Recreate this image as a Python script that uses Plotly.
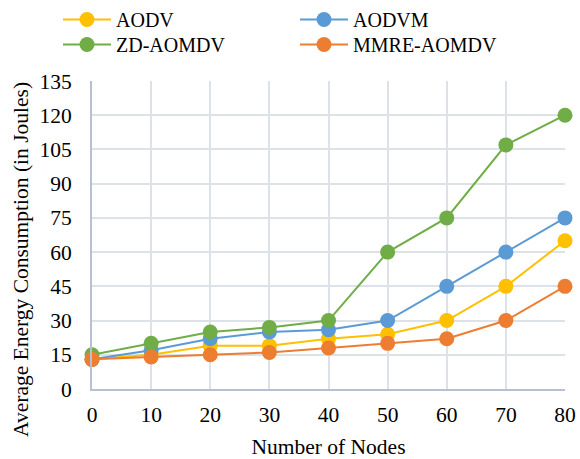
import plotly.graph_objects as go

nodes = [0, 10, 20, 30, 40, 50, 60, 70, 80]
aodv = [13, 15, 19, 19, 22, 24, 30, 45, 65]
aodvm = [13, 17, 22, 25, 26, 30, 45, 60, 75]
zd_aomdv = [15, 20, 25, 27, 30, 60, 75, 107, 120]
mmre_aomdv = [13, 14, 15, 16, 18, 20, 22, 30, 45]

series = [
    ("AODV", aodv, "#FFC000"),
    ("AODVM", aodvm, "#5B9BD5"),
    ("ZD-AOMDV", zd_aomdv, "#70AD47"),
    ("MMRE-AOMDV", mmre_aomdv, "#ED7D31"),
]

font = "'Liberation Serif', 'Times New Roman', serif"
fs = 21.5
W, H = 580, 459

# legend slot positions (container fractions): 2 columns x 2 rows
legend_pos = [(0.1, 1.0), (0.1 + 237 / W, 1.0),
              (0.1, 1.0 - 25 / H), (0.1 + 237 / W, 1.0 - 25 / H)]
legend_ids = ["legend", "legend2", "legend3", "legend4"]

fig = go.Figure()
for (name, vals, color), lid in zip(series, legend_ids):
    fig.add_trace(go.Scatter(
        x=nodes, y=vals, name=name, mode="lines+markers",
        line=dict(color=color, width=2),
        marker=dict(color=color, size=15),
        cliponaxis=False, legend=lid, showlegend=True,
    ))

legend_layout = {}
for lid, (lx, ly) in zip(legend_ids, legend_pos):
    legend_layout[lid] = dict(
        orientation="h", x=lx, xanchor="left", y=ly, yanchor="top",
        yref="container", xref="container", itemwidth=48,
        font=dict(family=font, size=20, color="black"),
        bgcolor="rgba(0,0,0,0)", visible=True,
    )

fig.update_layout(
    width=W, height=H, showlegend=True,
    margin=dict(l=92, r=15, t=81, b=70, autoexpand=False),
    paper_bgcolor="white", plot_bgcolor="white",
    font=dict(family=font, size=fs, color="black"),
    xaxis=dict(
        range=[0, 80], dtick=10, tick0=0,
        showgrid=True, gridcolor="#dde1e8", gridwidth=2,
        showline=True, linecolor="#b7c0d2", linewidth=2,
        ticks="outside", ticklen=5, tickcolor="rgba(0,0,0,0)", zeroline=False,
        title=dict(text="Number of Nodes", standoff=16,
                   font=dict(family=font, size=fs)),
    ),
    yaxis=dict(
        range=[0, 135], dtick=15, tick0=0,
        showgrid=True, gridcolor="#dde1e8", gridwidth=2,
        showline=True, linecolor="#b7c0d2", linewidth=2,
        ticks="outside", ticklen=14, tickcolor="rgba(0,0,0,0)", zeroline=False,
    ),
    annotations=[dict(
        text="Average Energy Consumption (in Joules)", textangle=-90,
        xref="paper", yref="paper", x=(21 - 92) / 473, y=(389 - 260) / 308,
        xanchor="center", yanchor="middle", showarrow=False,
        font=dict(family=font, size=21.5, color="black"),
    )],
    **legend_layout,
)

fig.write_html("out.html")
